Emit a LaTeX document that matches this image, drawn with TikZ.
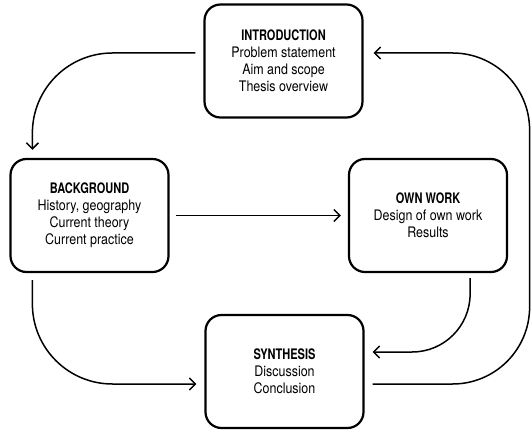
\documentclass[tikz,border=0pt]{standalone}
\usepackage{fontspec}
\setmainfont{TeX Gyre Heros}[FakeStretch=0.86,BoldFeatures={FakeStretch=0.76}]
\usepackage{tikz}
\usetikzlibrary{arrows.meta,positioning}

\tikzset{
  part/.style={draw, line width=2.2pt, rounded corners=16pt,
    minimum width=158pt, minimum height=113pt, inner sep=0pt,
    align=center, font=\fontsize{14.5}{17}\selectfont},
  flow/.style={line width=1.5pt, ->},
  >={Straight Barb[length=6pt,width=12pt]}
}

\begin{document}
\begin{tikzpicture}[x=1pt,y=1pt]
        \useasboundingbox (0,0) rectangle (532,431);
        \node[part] (intro) at (283.5,370) {\textbf{INTRODUCTION}\\Problem statement\\Aim and scope\\Thesis overview};
        \node[part] (back) at (89.5,215.5) {\textbf{BACKGROUND}\\History, geography\\Current theory\\Current practice};
        \node[part] (own) at (428,215.5) {\textbf{OWN WORK}\\Design of own work\\Results};
        \node[part] (synth) at (284.5,59.5) {\textbf{SYNTHESIS}\\Discussion\\Conclusion};
        % the cycle
        \draw[flow, rounded corners=80pt] ([shift={(-8pt,8pt)}]intro.west) -| ([shift={(23pt,8pt)}]back.north west);
        \draw[flow] ([xshift=6pt]back.east) -- ([xshift=-7pt]own.west);
        \draw[flow, rounded corners=80pt] ([shift={(23pt,-7pt)}]back.south west) |- ([shift={(-8pt,-12.5pt)}]synth.west);
        \draw[flow, rounded corners=58pt] ([shift={(-38pt,-5pt)}]own.south east) |- ([shift={(8pt,19.5pt)}]synth.east);
        \draw[flow, rounded corners=77pt] ([shift={(8pt,-12.5pt)}]synth.east) -- ++(157pt,0) |- ([shift={(10pt,8pt)}]intro.east);
      \end{tikzpicture}
\end{document}
